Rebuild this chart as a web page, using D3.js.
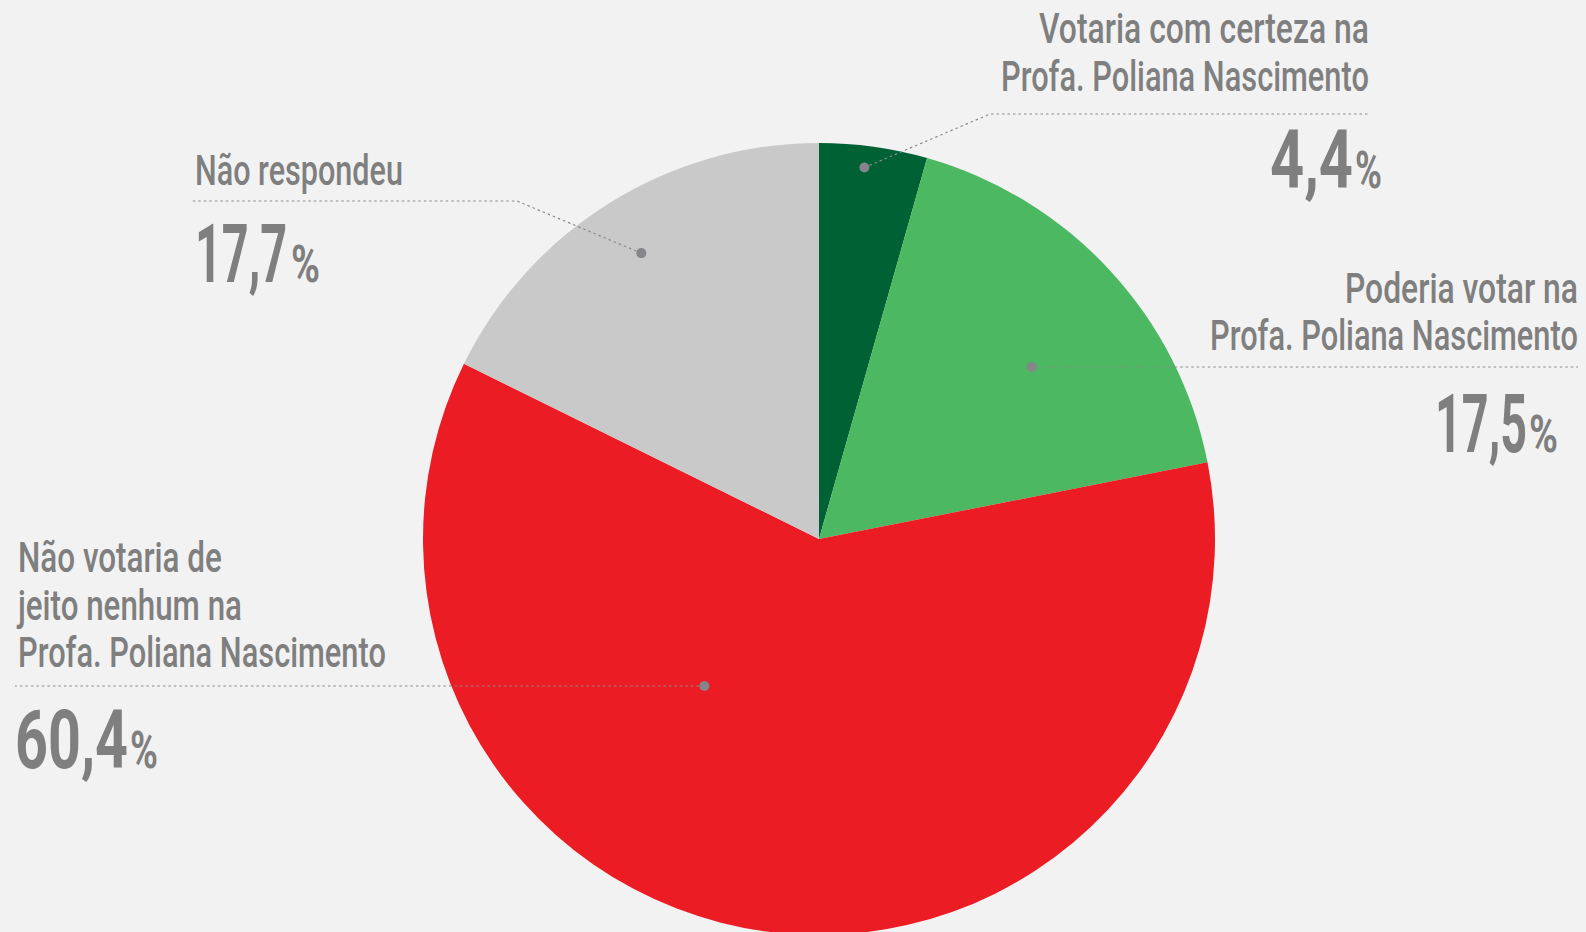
<!DOCTYPE html>
<html>
<head>
<meta charset="utf-8">
<title>Intenção de voto - Profa. Poliana Nascimento</title>
<script src="https://cdn.jsdelivr.net/npm/d3@7"></script>
<style>
  html, body { margin: 0; padding: 0; background: #f2f2f2; }
  svg { display: block; }
  .lbl { font-family: Roboto, "Liberation Sans", sans-serif; font-weight: 500; fill: #7f7f7f; }
  .num { font-family: Roboto, "Liberation Sans", sans-serif; font-weight: 700; fill: #7f7f7f; }
</style>
</head>
<body>
<div id="chart"></div>
<script>
// data, clockwise from 12 o'clock
var categories = ["Votaria com certeza", "Poderia votar", "Não votaria de jeito nenhum", "Não respondeu"];
var values = [4.4, 17.5, 60.4, 17.7];
var colors = ["#006134", "#4cb962", "#ec1c24", "#c9c9c9"];
var labelLines = [
  ["Votaria com certeza na", "Profa. Poliana Nascimento"],
  ["Poderia votar na", "Profa. Poliana Nascimento"],
  ["Não votaria de", "jeito nenhum na", "Profa. Poliana Nascimento"],
  ["Não respondeu"]
];
var valueLabels = ["4,4", "17,5", "60,4", "17,7"];

var W = 1586, H = 932;
var cx = 819, cy = 539, R = 396;

// where each leader dot sits: fraction along slice angle, fraction of radius
var anchors = [[0.44, 0.945], [0.56, 0.69], [0.64, 0.47], [0.50, 0.85]];

// label layout per slice (text block geometry)
var layout = [
  { align: "end", x: 1369, lines: [43, 91], widths: [330, 368], lineY: 114, lineFrom: 990, lineTo: 1368, elbow: true,
    num: { x: 1270, w: 83, y: 188 }, pct: { x: 1355, w: 27 } },
  { align: "end", x: 1578, lines: [303, 350], widths: [233, 368], lineY: 367, lineFrom: null, lineTo: 1578, elbow: false,
    num: { x: 1435, w: 92, y: 452 }, pct: { x: 1529, w: 29 } },
  { align: "start", x: 18, lines: [572, 620, 667], widths: [204, 224, 368], lineY: 686, lineFrom: 15, lineTo: null, elbow: false,
    num: { x: 15, w: 113, y: 768 }, pct: { x: 130, w: 28 } },
  { align: "start", x: 195, lines: [185], widths: [208], lineY: 201, lineFrom: 191, lineTo: 517, elbow: true,
    num: { x: 195, w: 92, y: 282 }, pct: { x: 291, w: 29 } }
];

var svg = d3.select("#chart").append("svg")
  .attr("width", W)
  .attr("height", H);

svg.append("rect").attr("width", W).attr("height", H).attr("fill", "#f2f2f2");

var pie = d3.pie().sort(null).value(function(d) { return d; });
var arcs = pie(values);
var arc = d3.arc().innerRadius(0).outerRadius(R);

var g = svg.append("g").attr("transform", "translate(" + cx + "," + cy + ")");

g.selectAll("path.slice")
  .data(arcs)
  .enter().append("path")
  .attr("class", "slice")
  .attr("d", arc)
  .attr("fill", function(d, i) { return colors[i]; });

// leader dots and dashed lines
arcs.forEach(function(a, i) {
  var ang = a.startAngle + (a.endAngle - a.startAngle) * anchors[i][0];
  var p = d3.pointRadial(ang, R * anchors[i][1]);
  var dx = cx + p[0], dy = cy + p[1];
  var L = layout[i];
  var pts;
  if (L.elbow) {
    if (L.align == "end") pts = [[dx, dy], [L.lineFrom, L.lineY], [L.lineTo, L.lineY]];
    else pts = [[dx, dy], [L.lineTo, L.lineY], [L.lineFrom, L.lineY]];
  } else {
    if (L.align == "end") pts = [[dx, L.lineY], [L.lineTo, L.lineY]];
    else pts = [[dx, L.lineY], [L.lineFrom, L.lineY]];
  }
  svg.append("path")
    .attr("d", d3.line()(pts))
    .attr("fill", "none")
    .attr("stroke", "#8a8a8a")
    .attr("stroke-width", 1.2)
    .attr("stroke-dasharray", "2.5,3");

  svg.append("circle")
    .attr("cx", dx)
    .attr("cy", L.elbow ? dy : L.lineY)
    .attr("r", 5)
    .attr("fill", "#85858a");
});

// condensed text: draw at natural width, then squeeze horizontally to target width
function squeezed(cls, size, x, y, w, str) {
  var t = svg.append("text")
    .attr("class", cls)
    .attr("font-size", size)
    .attr("x", 0)
    .attr("y", 0)
    .text(str);
  var nat = t.node().getComputedTextLength();
  var sx = w / nat;
  t.attr("transform", "translate(" + x + "," + y + ") scale(" + sx + ",1)");
  return t;
}

layout.forEach(function(L, i) {
  labelLines[i].forEach(function(line, j) {
    var w = L.widths[j];
    var x0 = (L.align == "end") ? L.x - w : L.x;
    squeezed("lbl", 42, x0, L.lines[j], w, line);
  });
  squeezed("num", 82, L.num.x, L.num.y, L.num.w, valueLabels[i]);
  squeezed("num", 52, L.pct.x, L.num.y, L.pct.w, "%");
});
</script>
</body>
</html>
